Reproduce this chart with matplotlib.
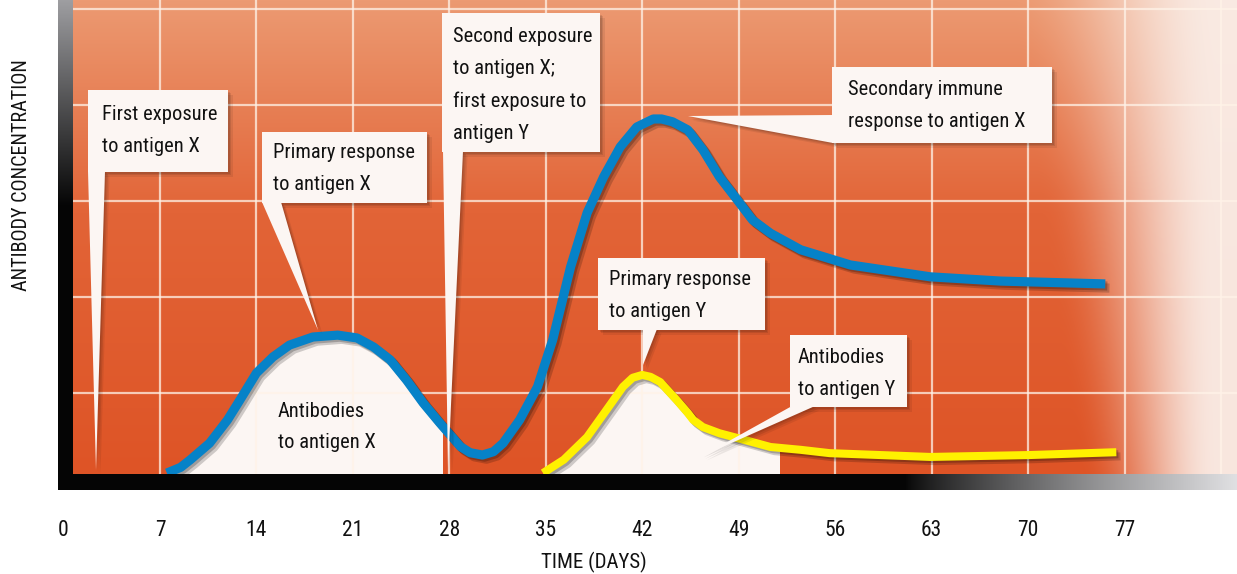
import numpy as np
import matplotlib
matplotlib.use("Agg")
import matplotlib.pyplot as plt
from matplotlib.transforms import Affine2D
from matplotlib.patches import Polygon, Rectangle
from matplotlib import font_manager as fm
import matplotlib.patheffects as pe

# ---------------- data ----------------
days_x = [7.5, 8.5, 9.2, 10.6, 11.9, 12.8, 14.0, 15.2, 16.4, 18.1, 19.9, 21.3, 22.5,
          23.7, 24.9, 26.1, 27.3, 28.8, 29.5, 30.4, 31.2, 31.9, 33.1, 34.4, 35.5,
          36.8, 38.0, 39.2, 40.4, 41.6, 42.8, 43.4, 44.2, 45.3, 46.4, 47.6, 48.9,
          50.0, 51.3, 53.5, 57.1, 62.9, 68.0, 75.6]
conc_x = [0.2, 1.4, 3.0, 6.5, 11.4, 15.6, 21.3, 24.7, 27.2, 28.9, 29.3, 28.7, 26.8,
          24.1, 19.8, 15.0, 10.8, 5.8, 4.5, 4.0, 4.7, 6.5, 11.4, 18.4, 28.3,
          43.7, 55.1, 62.7, 69.0, 73.2, 74.9, 74.9, 74.3, 72.6, 68.4, 62.7, 57.8,
          53.6, 50.8, 47.3, 44.1, 41.6, 40.7, 40.1]

days_y = [34.8, 36.3, 38.0, 39.4, 40.6, 41.3, 42.0, 42.6, 43.3, 44.5, 45.3, 45.7,
          46.4, 47.6, 48.9, 51.3, 53.5, 55.6, 62.9, 70.1, 76.4]
conc_y = [0.2, 3.0, 7.8, 13.5, 18.4, 20.3, 20.9, 20.5, 19.4, 15.6, 12.9, 11.4,
          9.9, 8.6, 7.6, 5.7, 5.1, 4.4, 3.6, 4.0, 4.6]

tick_days = [0, 7, 14, 21, 28, 35, 42, 49, 56, 63, 70, 77, 84]
tick_labels = ['0', '7', '14', '21', '28', '35', '42', '49', '56', '63', '70', '77', '']

fill_end_x = 27.5   # white region under primary X response ends here
fill_end_y = 51.9   # white region under Y response ends here

x_label = 'TIME (DAYS)'
y_label = 'ANTIBODY CONCENTRATION'

callout_lines = [
    ['First exposure', 'to antigen X'],
    ['Primary response', 'to antigen X'],
    ['Second exposure', 'to antigen X;', 'first exposure to', 'antigen Y'],
    ['Secondary immune', 'response to antigen X'],
    ['Primary response', 'to antigen Y'],
    ['Antibodies', 'to antigen Y'],
]
area_label = ['Antibodies', 'to antigen X']

# ---------------- font: prefer a narrow / condensed sans ----------------
cond = {'condensed', 'semi-condensed', 'extra-condensed', 'ultra-condensed'}
pref = ['Liberation Sans Narrow', 'Roboto Condensed', 'Open Sans Condensed',
        'Noto Sans Condensed', 'DejaVu Sans', 'Noto Sans', 'Open Sans', 'Roboto']
family, stretch = None, 'normal'
cands = []
for fe in fm.fontManager.ttflist:
    st = str(fe.stretch)
    if ('Narrow' in fe.name or 'Condensed' in fe.name or st in cond) and fe.style == 'normal':
        cands.append((pref.index(fe.name) if fe.name in pref else 99, fe.name, st))
if cands:
    cands.sort()
    family, stretch = cands[0][1], cands[0][2]
else:
    family = 'Roboto'
plt.rcParams['font.family'] = [family, 'DejaVu Sans']
plt.rcParams['font.stretch'] = stretch

# ---------------- layout (pixels, origin top-left) ----------------
W, H = 1237, 574
fig = plt.figure(figsize=(W / 100, H / 100), dpi=100)
fig.patch.set_facecolor('white')
pxT = Affine2D().scale(1 / W, -1 / H).translate(0, 1) + fig.transFigure
renderer = fig.canvas.get_renderer()


def fit_size(s, target_px, cap):
    t = fig.text(0, 0, s, fontsize=20)
    w = t.get_window_extent(renderer).width
    t.remove()
    return min(cap, 20 * target_px / w)


FS = fit_size('response to antigen X', 176, 16.5)
FS_TICK = 15.5
FS_XL = fit_size(x_label, 106, 16.5)
FS_YL = fit_size(y_label, 232, 15.5)

AX_L, AX_R, AX_B = 60, 1237, 474
ax = fig.add_axes([AX_L / W, (H - AX_B) / H, (AX_R - AX_L) / W, AX_B / H])
x0_px, px_per_day = 63.5, 13.78
xlim = ((AX_L - x0_px) / px_per_day, (AX_R - x0_px) / px_per_day)

# background gradient
nr, nc = 474, AX_R - AX_L
t = np.linspace(0, 1, nr)[:, None]
top = np.array([236, 154, 114]) / 255
mid = np.array([226, 100, 55]) / 255
bot = np.array([222, 84, 38]) / 255
w1 = np.clip(t / 0.45, 0, 1)
w2 = np.clip((t - 0.45) / 0.55, 0, 1)
col = top * (1 - w1[..., None]) + mid * w1[..., None]
col = col * (1 - w2[..., None]) + bot * w2[..., None]
col = np.repeat(col, nc, axis=1)
xs = AX_L + np.arange(nc)[None, :]
start = 1010 + 70 * t
f = np.clip((xs - start) / (AX_R - 20 - start), 0, 1)
f = f * f * (3 - 2 * f) * 0.95
light = np.array([250, 238, 232]) / 255
col = col * (1 - f[..., None]) + light * f[..., None]
ax.imshow(col, extent=(xlim[0], xlim[1], 0, 100), aspect='auto', origin='upper', zorder=0)

# ticks & grid
ax.set_xticks(tick_days)
ax.set_xticklabels(tick_labels)
ax.set_yticks([17.1, 37.4, 57.6, 77.9, 98.1])
ax.set_yticklabels([])
ax.set_xlim(*xlim)
ax.set_ylim(0, 100)
ax.grid(True, color='#FFF3E8', alpha=0.75, lw=1.6, zorder=1)
ax.set_axisbelow(False)
for s in ax.spines.values():
    s.set_visible(False)
ax.tick_params(axis='both', length=0)
ax.tick_params(axis='x', pad=33, labelsize=FS_TICK, labelcolor='#111111')

BOXC = '#FCF6F3'
# white areas under curves
fx = ax.fill_between(days_x, conc_x, 0, color=BOXC, lw=0, zorder=2)
fx.set_clip_path(Rectangle((xlim[0], 0), fill_end_x - xlim[0], 100, transform=ax.transData))
fy = ax.fill_between(days_y, conc_y, 0, color=BOXC, lw=0, zorder=2)
fy.set_clip_path(Rectangle((xlim[0], 0), fill_end_y - xlim[0], 100, transform=ax.transData))

shadow = [pe.SimpleLineShadow(offset=(3, -3), shadow_color='black', alpha=0.18),
          pe.SimpleLineShadow(offset=(1.5, -1.5), shadow_color='black', alpha=0.22),
          pe.Normal()]
ax.plot(days_x, conc_x, color='#0682C8', lw=6.6, solid_capstyle='butt',
        solid_joinstyle='round', zorder=3, path_effects=shadow)
ax.plot(days_y, conc_y, color='#FFF100', lw=5.8, solid_capstyle='butt',
        solid_joinstyle='round', zorder=3, path_effects=shadow)

# callouts: box (x0, y0, x1, y1), text x, first baseline, pointer polygon (pixels)
boxes = [
    (88, 90, 228, 172), (262, 132, 427, 203), (442, 13, 600, 152),
    (832, 67, 1052, 143), (598, 258, 765, 330), (790, 335, 907, 407),
]
text_pos = [(102, 120), (273, 158), (453, 42), (848, 95), (609, 285), (798, 363)]
pointers = [
    [(88, 171), (105, 171), (96, 470)],
    [(262, 202), (281, 202), (318, 330)],
    [(443, 151), (463, 151), (448, 468)],
    [(833, 115), (833, 143), (688, 116)],
    [(643, 329), (657, 329), (643, 365)],
    [(792, 406), (815, 406), (702, 456)],
]
LS = 32.3


def rect_pts(b):
    return [(b[0], b[1]), (b[2], b[1]), (b[2], b[3]), (b[0], b[3])]


shapes = [rect_pts(b) for b in boxes] + pointers
for off, a in ((4.5, 0.07), (3, 0.09), (1.5, 0.10)):
    for pts in shapes:
        sh = [(x + off, y + off) for x, y in pts]
        ax.add_patch(Polygon(sh, closed=True, transform=pxT, facecolor='black', alpha=a,
                             lw=0, zorder=4, clip_on=False))
for pts in shapes:
    ax.add_patch(Polygon(pts, closed=True, transform=pxT, facecolor=BOXC,
                         lw=0, zorder=5, clip_on=False))

for lines, (tx, ty) in zip(callout_lines, text_pos):
    for i, s in enumerate(lines):
        ax.text(tx, ty + i * LS, s, transform=pxT, fontsize=FS, color='#111111',
                ha='left', va='baseline', zorder=6, clip_on=False)
for i, s in enumerate(area_label):
    ax.text(278, 417 + i * 31, s, transform=pxT, fontsize=FS, color='#111111',
            ha='left', va='baseline', zorder=6, clip_on=False)

# axis labels
ax.set_xlabel(x_label, fontsize=FS_XL, color='#111111', va='center')
ax.xaxis.set_label_coords(594, 562, transform=pxT)
ax.set_ylabel(y_label, fontsize=FS_YL, color='#111111', va='center')
ax.yaxis.set_label_coords(22, 175, transform=pxT)

# black axis bars with gradients (drawn over the plot edges)
axl = fig.add_axes([58 / W, (H - 490) / H, 15 / W, 490 / H])
g = np.linspace(0, 1, 490)[:, None]
k = np.clip(g / 0.42, 0, 1)
lv = (0.62 * (1 - k) + 0.02 * k)
axl.imshow(np.repeat(np.dstack([lv, lv, lv * 1.02]), 2, axis=1).clip(0, 1),
           aspect='auto', extent=(0, 1, 0, 1), origin='upper')
axl.set_axis_off()

axb = fig.add_axes([58 / W, (H - 490) / H, (1237 - 58) / W, 16 / H])
gx = np.arange(1237 - 58)[None, :] + 58
kb = np.clip((gx - 905) / (1237 - 905), 0, 1)
bv = 0.02 * (1 - kb) + 0.88 * kb ** 0.8
axb.imshow(np.dstack([bv, bv, bv * 1.01]).clip(0, 1), aspect='auto',
           extent=(0, 1, 0, 1), origin='upper')
axb.set_axis_off()

fig.savefig('out.png', dpi=100)
